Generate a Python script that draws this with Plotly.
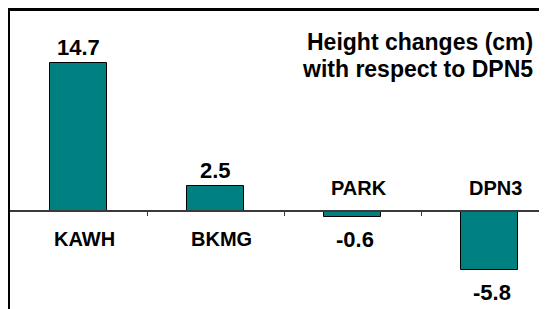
import plotly.graph_objects as go

stations = ["KAWH", "BKMG", "PARK", "DPN3"]
height_change_cm = [14.7, 2.5, -0.6, -5.8]
value_labels = ["14.7", "2.5", "-0.6", "-5.8"]
title_lines = ["Height changes (cm)", "with respect to DPN5"]

FONT = "Arial, Liberation Sans, sans-serif"
xpos = list(range(len(stations)))
y_range = [-10.44, 19.9]
x_range = [-0.5, 3.478]
zero_pos = (0 - y_range[0]) / (y_range[1] - y_range[0])

fig = go.Figure()
fig.add_trace(go.Bar(
    x=xpos, y=height_change_cm, width=0.41,
    marker=dict(color="#008080", line=dict(color="#000000", width=1)),
    hoverinfo="skip", showlegend=False,
))

annotations = []
for x, v, vl, name in zip(xpos, height_change_cm, value_labels, stations):
    pos = v >= 0
    annotations.append(dict(
        x=x, y=v, xref="x", yref="y", text=vl, showarrow=False,
        yanchor="bottom" if pos else "top", yshift=1 if pos else -8, xshift=0 if pos else 2,
        font=dict(family=FONT, size=22, color="#000", weight="bold"),
    ))
    annotations.append(dict(
        x=x, y=0, xref="x", yref="y", text=name, showarrow=False,
        yanchor="middle", yshift=-28 if pos else 23, xshift=6,
        font=dict(family=FONT, size=20, color="#000", weight="bold"),
    ))

for i, line in enumerate(title_lines):
    annotations.append(dict(
        x=0.963, y=0.896 - i * 0.087, xref="paper", yref="paper", text=line,
        showarrow=False, xanchor="right", yanchor="middle",
        font=dict(family=FONT, size=23, color="#000", weight="bold"),
    ))

fig.update_layout(
    width=547, height=309,
    margin=dict(l=2, r=0, t=2, b=0),
    paper_bgcolor="#000000", plot_bgcolor="white",
    annotations=annotations,
    shapes=[dict(type="line", xref="paper", yref="paper", x0=0, x1=1, y0=1, y1=1,
                 line=dict(color="#000000", width=2), layer="above")],
    xaxis=dict(range=x_range, anchor="free", position=zero_pos, showline=True,
               linecolor="#3a3a3a", linewidth=1.5, ticks="outside",
               tickvals=[0.5, 1.5, 2.5], ticklen=4, tickwidth=1, tickcolor="#3a3a3a",
               showticklabels=False, showgrid=False, zeroline=False, fixedrange=True),
    yaxis=dict(range=y_range, showline=True, linecolor="#000", linewidth=2,
               ticks="", showticklabels=False, showgrid=False, zeroline=False,
               fixedrange=True),
    bargap=0,
)

fig.write_html("out.html", config={"displayModeBar": False})
